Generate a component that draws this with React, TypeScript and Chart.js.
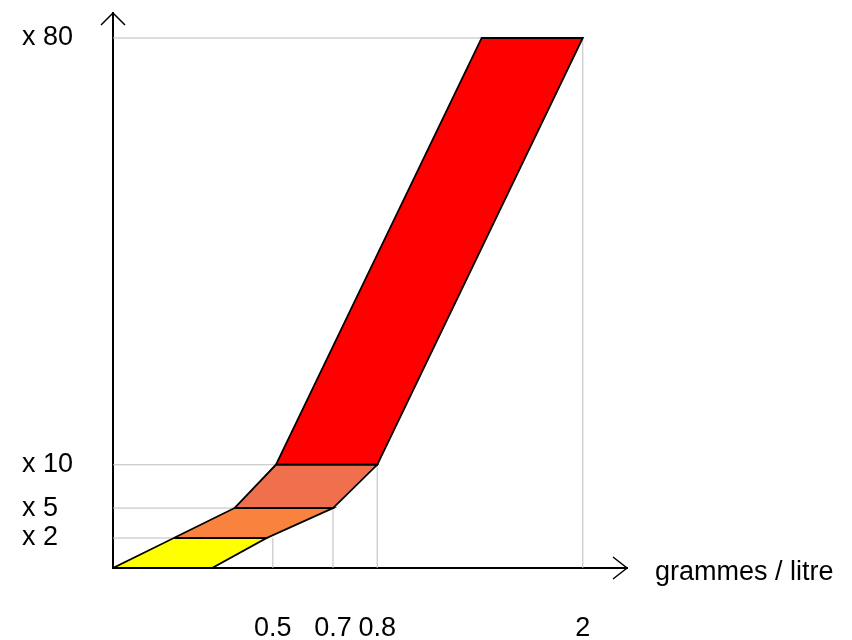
import { useEffect, useRef } from 'react';
import { Chart, registerables, LinearScale } from 'chart.js';

// ---- chart values ----
const factorLevels = [0, 2, 5, 10, 80];
const bandLeft = [0, 0.19, 0.38, 0.51, 1.41];
const bandRight = [0.31, 0.48, 0.7, 0.8, 2];
const bandColors = ['#FFFF00', '#F9823E', '#F0704E', '#FF0000'];
const xTickValues = [0.5, 0.7, 0.8, 2];
const xTickLabels = ['0.5', '0.7', '0.8', '2'];
const yTickValues = [2, 5, 10, 80];
const yTickLabels = ['x 2', 'x 5', 'x 10', 'x 80'];
const xTitle = 'grammes / litre';

// schematic (non-proportional) axes: value breakpoints and their share of the axis length
const xAxisBreaks = [0, 0.5, 0.7, 0.8, 2, 2.26];
const xAxisShares = [0, 0.311, 0.428, 0.514, 0.914, 1];
const yAxisBreaks = [0, 2, 5, 10, 80, 84.1];
const yAxisShares = [0, 0.054, 0.108, 0.186, 0.955, 1];

const axisMaps: Record<string, { from: number[]; to: number[] }> = {
  x: { from: xAxisBreaks, to: xAxisShares },
  y: { from: yAxisBreaks, to: yAxisShares },
};

function interp(v: number, from: number[], to: number[]): number {
  const n = from.length;
  for (let i = 1; i < n; i++) {
    if (v <= from[i] || i === n - 1) {
      const t = (v - from[i - 1]) / (from[i] - from[i - 1]);
      return to[i - 1] + t * (to[i] - to[i - 1]);
    }
  }
  return to[0];
}

class SchematicScale extends LinearScale {
  static id = 'schematic';
  static defaults = LinearScale.defaults;
  getPixelForValue(value: any) {
    if (value === null || value === undefined || isNaN(value)) return NaN;
    const m = axisMaps[(this as any).id];
    return this.getPixelForDecimal(interp(+value, m.from, m.to));
  }
  getValueForPixel(pixel: number) {
    const m = axisMaps[(this as any).id];
    return interp(this.getDecimalForPixel(pixel), m.to, m.from);
  }
}

Chart.register(...registerables, SchematicScale as any);

const FONT = '"Liberation Sans", Arial, Helvetica, sans-serif';
const FONT_SIZE = 27;

const decorPlugin = {
  id: 'decor',
  afterDraw(chart: any) {
    const { ctx, chartArea: a } = chart;
    ctx.save();
    ctx.strokeStyle = '#000';
    ctx.lineWidth = 1.5;
    ctx.beginPath();
    ctx.moveTo(a.left - 12, a.top + 12);
    ctx.lineTo(a.left, a.top);
    ctx.lineTo(a.left + 12, a.top + 12);
    ctx.moveTo(a.right - 14, a.bottom - 11);
    ctx.lineTo(a.right, a.bottom);
    ctx.lineTo(a.right - 14, a.bottom + 11);
    ctx.stroke();
    ctx.fillStyle = '#000';
    ctx.font = `${FONT_SIZE}px ${FONT}`;
    ctx.textBaseline = 'alphabetic';
    ctx.textAlign = 'left';
    ctx.fillText(xTitle, a.right + 28, a.bottom + 12);
    ctx.restore();
  },
};

export default function App() {
  const ref = useRef<HTMLCanvasElement>(null);
  useEffect(() => {
    const datasets: any[] = [];
    for (let i = 0; i < bandColors.length; i++) {
      datasets.push({
        data: [
          { x: bandLeft[i], y: factorLevels[i] },
          { x: bandRight[i], y: factorLevels[i] },
          { x: bandRight[i + 1], y: factorLevels[i + 1] },
          { x: bandLeft[i + 1], y: factorLevels[i + 1] },
          { x: bandLeft[i], y: factorLevels[i] },
        ],
        showLine: true,
        fill: 'shape',
        backgroundColor: bandColors[i],
        borderColor: '#000',
        borderWidth: 1.8,
        pointRadius: 0,
        tension: 0,
        order: 1,
      });
    }
    yTickValues.forEach((lv, i) => {
      datasets.push({
        data: [{ x: 0, y: lv }, { x: bandRight[i + 1], y: lv }],
        showLine: true, fill: false, borderColor: '#bcbcbc', borderWidth: 1, pointRadius: 0, order: 2,
      });
      datasets.push({
        data: [{ x: xTickValues[i], y: 0 }, { x: xTickValues[i], y: lv }],
        showLine: true, fill: false, borderColor: '#bcbcbc', borderWidth: 1, pointRadius: 0, order: 2,
      });
    });

    const chart = new Chart(ref.current!, {
      type: 'scatter',
      data: { datasets },
      plugins: [decorPlugin],
      options: {
        animation: false,
        responsive: true,
        maintainAspectRatio: false,
        events: [],
        layout: { padding: { left: 22, top: 13, right: 225, bottom: 0 } },
        plugins: { legend: { display: false }, tooltip: { enabled: false } },
        scales: {
          x: {
            type: 'schematic' as any,
            min: 0,
            max: xAxisBreaks[xAxisBreaks.length - 1],
            grid: { display: false, drawTicks: false },
            border: { display: true, color: '#000', width: 2 },
            afterBuildTicks: (s: any) => { s.ticks = xTickValues.map((v) => ({ value: v })); },
            afterFit: (s: any) => { s.height = 72; s.paddingLeft = 0; s.paddingRight = 0; },
            ticks: {
              autoSkip: false,
              maxRotation: 0,
              padding: 44,
              color: '#000',
              font: { family: FONT, size: FONT_SIZE },
              callback: (_v: any, i: number) => xTickLabels[i],
            },
          },
          y: {
            type: 'schematic' as any,
            min: 0,
            max: yAxisBreaks[yAxisBreaks.length - 1],
            grid: { display: false, drawTicks: false },
            border: { display: true, color: '#000', width: 2 },
            afterBuildTicks: (s: any) => { s.ticks = yTickValues.map((v) => ({ value: v })); },
            afterFit: (s: any) => { s.width = 91; s.paddingTop = 0; s.paddingBottom = 0; },
            ticks: {
              autoSkip: false,
              crossAlign: 'far',
              color: '#000',
              font: { family: FONT, size: FONT_SIZE },
              callback: (_v: any, i: number) => yTickLabels[i],
            },
          },
        },
      },
    });
    return () => chart.destroy();
  }, []);

  return (
    <div style={{ position: 'fixed', left: 0, top: 0, width: 852, height: 640, background: '#fff' }}>
      <canvas ref={ref} />
    </div>
  );
}
